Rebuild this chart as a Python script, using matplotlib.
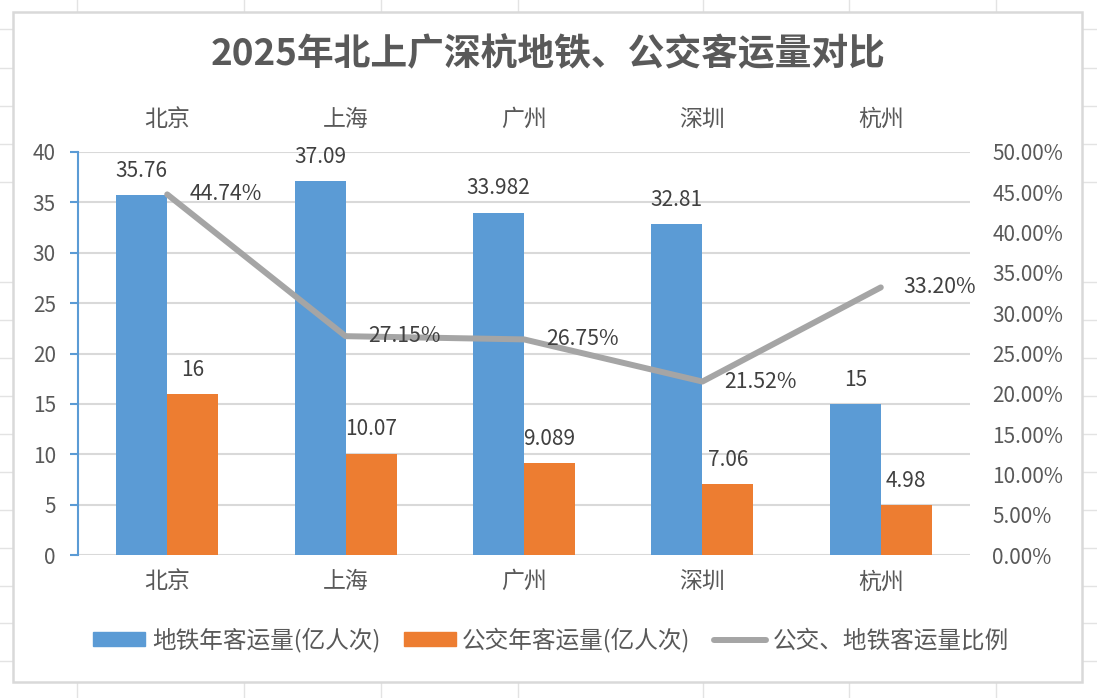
import matplotlib
matplotlib.use("Agg")
import matplotlib.pyplot as plt
from matplotlib.patches import Rectangle, Patch
from matplotlib.lines import Line2D
from matplotlib.ticker import PercentFormatter
import numpy as np

plt.rcParams['font.family'] = ['Noto Sans CJK SC', 'DejaVu Sans']

# 数据
cities = ['北京', '上海', '广州', '深圳', '杭州']
metro = [35.76, 37.09, 33.982, 32.81, 15]
bus = [16, 10.07, 9.089, 7.06, 4.98]
ratio = [44.74, 27.15, 26.75, 21.52, 33.20]  # %

title = '2025年北上广深杭地铁、公交客运量对比'
metro_name = '地铁年客运量(亿人次)'
bus_name = '公交年客运量(亿人次)'
ratio_name = '公交、地铁客运量比例'

BLUE = '#5B9BD5'
ORANGE = '#ED7D31'
GRAY = '#A5A5A5'
GRID = '#D9D9D9'
TXT = '#595959'
LBL = '#404040'

W, H = 1097, 698
fig = plt.figure(figsize=(W / 100, H / 100), dpi=100)

# 背景表格线
for yy in [29, 68, 106, 144, 182, 282, 320, 358, 396, 434, 472, 510, 548, 586, 623, 661]:
    fig.add_artist(Line2D([0, 1], [1 - yy / H] * 2, color='#E3E3E3', lw=1, zorder=-3))
for xx in [77, 244, 381, 518, 703, 849, 996]:
    fig.add_artist(Line2D([xx / W] * 2, [0, 1], color='#E3E3E3', lw=1, zorder=-3))
fig.add_artist(Rectangle((13 / W, 1 - 682 / H), 1069 / W, 670 / H, facecolor='white',
                         edgecolor=GRID, lw=1.8, zorder=-2))

ax = fig.add_axes([78 / W, 1 - 555 / H, 892 / W, 403 / H])
ax.set_zorder(1)
ax.patch.set_visible(False)

x = np.arange(len(cities))
bw = 1 / 3.5
b1 = ax.bar(x - bw / 2, metro, bw, color=BLUE, label=metro_name, zorder=2)
b2 = ax.bar(x + bw / 2, bus, bw, color=ORANGE, label=bus_name, zorder=2)

for rects, vals in [(b1, metro), (b2, bus)]:
    for r, v in zip(rects, vals):
        ax.annotate(f'{v:g}', (r.get_x() + r.get_width() / 2, v), xytext=(0, 9.5),
                    textcoords='offset points', ha='center', va='bottom',
                    fontsize=15, color=LBL)

ax.set_xlim(-0.5, len(cities) - 0.5)
ax.set_ylim(0, 40)
ax.set_yticks(range(0, 41, 5))
ax.set_xticks(x)
ax.set_xticklabels(cities)
ax.yaxis.grid(True, color=GRID, lw=1.5, zorder=0)
ax.set_axisbelow(True)
ax.tick_params(axis='x', length=0, labelsize=16.5, labelcolor=TXT, pad=11)
ax.tick_params(axis='y', length=6, width=1.5, color=BLUE, labelsize=15,
               labelcolor=TXT, pad=10)
for s in ['top', 'right', 'bottom']:
    ax.spines[s].set_visible(False)
ax.spines['left'].set_color(BLUE)
ax.spines['left'].set_linewidth(1.5)

# 顶部类别标签
top = ax.secondary_xaxis('top')
top.set_xticks(x)
top.set_xticklabels(cities)
top.tick_params(length=0, labelsize=16.5, labelcolor=TXT, pad=15)
top.spines['top'].set_visible(False)

ax2 = ax.twinx()
ratio_frac = [r / 100 for r in ratio]
ax2.plot(x, ratio_frac, color=GRAY, lw=4.3, solid_capstyle='round', label=ratio_name, zorder=3)
for xi, v in zip(x, ratio):
    ax2.annotate(f'{v:.2f}%', (xi, v / 100), xytext=(16, 0), textcoords='offset points',
                 ha='left', va='center', fontsize=15.3, color=LBL)
ax2.set_ylim(0, 0.5)
ax2.set_yticks(np.arange(0, 0.51, 0.05))
ax2.yaxis.set_major_formatter(PercentFormatter(1.0, decimals=2))
ax2.tick_params(axis='y', length=0, labelsize=15, labelcolor=TXT, pad=16)
for s in ax2.spines.values():
    s.set_visible(False)

fig.text(0.5, 1 - 55 / H, title, ha='center', va='center', fontsize=26.5,
         fontweight='bold', color=TXT)

handles = [Patch(color=BLUE), Patch(color=ORANGE),
           Line2D([], [], color=GRAY, lw=4.3, solid_capstyle='round')]
leg = fig.legend(handles, [metro_name, bus_name, ratio_name], loc='center',
                 bbox_to_anchor=(551 / W, 1 - 640 / H), ncol=3, frameon=False,
                 fontsize=17, handlelength=2.2, handleheight=0.55,
                 handletextpad=0.27, columnspacing=1.0)
for t in leg.get_texts():
    t.set_color(TXT)

fig.savefig('out.png', dpi=100, facecolor='white')
